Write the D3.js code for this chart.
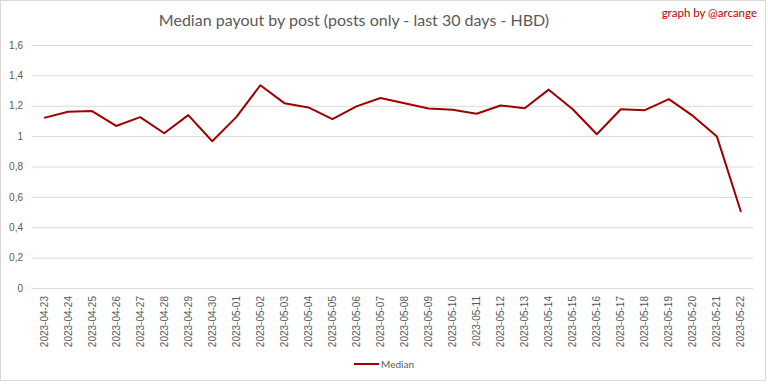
<!DOCTYPE html>
<html>
<head>
<meta charset="utf-8">
<script src="https://cdn.jsdelivr.net/npm/d3@7"></script>
<style>
  body { margin: 0; background: #fff; }
  svg { display: block; font-family: Lato, "Open Sans", sans-serif; }
</style>
</head>
<body>
<div id="chart"></div>
<script>
// Median payout by post - last 30 days
const dates = ["2023-04-23","2023-04-24","2023-04-25","2023-04-26","2023-04-27","2023-04-28",
  "2023-04-29","2023-04-30","2023-05-01","2023-05-02","2023-05-03","2023-05-04","2023-05-05",
  "2023-05-06","2023-05-07","2023-05-08","2023-05-09","2023-05-10","2023-05-11","2023-05-12",
  "2023-05-13","2023-05-14","2023-05-15","2023-05-16","2023-05-17","2023-05-18","2023-05-19",
  "2023-05-20","2023-05-21","2023-05-22"];
const median = [1.12, 1.16, 1.165, 1.067, 1.125, 1.019, 1.138, 0.966, 1.125, 1.335,
  1.217, 1.189, 1.112, 1.196, 1.251, 1.217, 1.182, 1.173, 1.147, 1.202,
  1.184, 1.306, 1.177, 1.012, 1.177, 1.171, 1.244, 1.133, 0.997, 0.5];
const yTicks = [0, 0.2, 0.4, 0.6, 0.8, 1, 1.2, 1.4, 1.6];

const W = 768, H = 384;
const margin = { top: 45, right: 15, bottom: 96, left: 32 },
      width = W - margin.left - margin.right,
      height = H - margin.top - margin.bottom;

const svg = d3.select("#chart").append("svg")
  .attr("width", W)
  .attr("height", H);

// chart border
svg.append("rect")
  .attr("x", 0.5).attr("y", 0.5)
  .attr("width", W - 3).attr("height", H - 4)
  .attr("fill", "#fff")
  .attr("stroke", "#d9d9d9");

const g = svg.append("g")
  .attr("transform", `translate(${margin.left},${margin.top})`);

const x = d3.scaleBand().domain(dates).range([0, width]);
const y = d3.scaleLinear().domain([0, 1.6]).range([height, 0]);

const fmt = v => d3.format(".1~f")(v).replace(".", ",");

// gridlines + y labels
const yAxis = g.append("g")
  .call(d3.axisLeft(y).tickValues(yTicks).tickSize(-width).tickFormat(fmt).tickPadding(9));
yAxis.select(".domain").remove();
yAxis.selectAll("line").attr("stroke", "#d9d9d9");
yAxis.selectAll("text").attr("fill", "#595959").style("font-size", "10px");

// x labels
const xAxis = g.append("g")
  .attr("transform", `translate(0,${height})`)
  .call(d3.axisBottom(x).tickSize(0));
xAxis.select(".domain").remove();
xAxis.selectAll("text")
  .attr("fill", "#595959")
  .style("font-size", "10px")
  .attr("transform", "rotate(-90)")
  .attr("text-anchor", "end")
  .attr("x", -8)
  .attr("y", 0)
  .attr("dy", "0.35em");

// line
const line = d3.line()
  .x((d, i) => x(dates[i]) + x.bandwidth() / 2)
  .y(d => y(d));

g.append("path")
  .datum(median)
  .attr("fill", "none")
  .attr("stroke", "#a00000")
  .attr("stroke-width", 2)
  .attr("stroke-linejoin", "round")
  .attr("d", line);

// title
svg.append("text")
  .attr("x", 354)
  .attr("y", 26)
  .attr("text-anchor", "middle")
  .attr("fill", "#595959")
  .style("font-size", "16px")
  .text("Median payout by post (posts only - last 30 days - HBD)");

svg.append("text")
  .attr("x", 757)
  .attr("y", 17)
  .attr("text-anchor", "end")
  .attr("fill", "#c00000")
  .style("font-size", "11.5px")
  .text("graph by @arcange");

// legend
const legend = svg.append("g").attr("transform", "translate(354,364)");
legend.append("line")
  .attr("x1", 0).attr("x2", 25)
  .attr("stroke", "#a00000").attr("stroke-width", 2);
legend.append("text")
  .attr("x", 27).attr("dy", "0.35em")
  .attr("fill", "#595959")
  .style("font-size", "10px")
  .text("Median");
</script>
</body>
</html>
